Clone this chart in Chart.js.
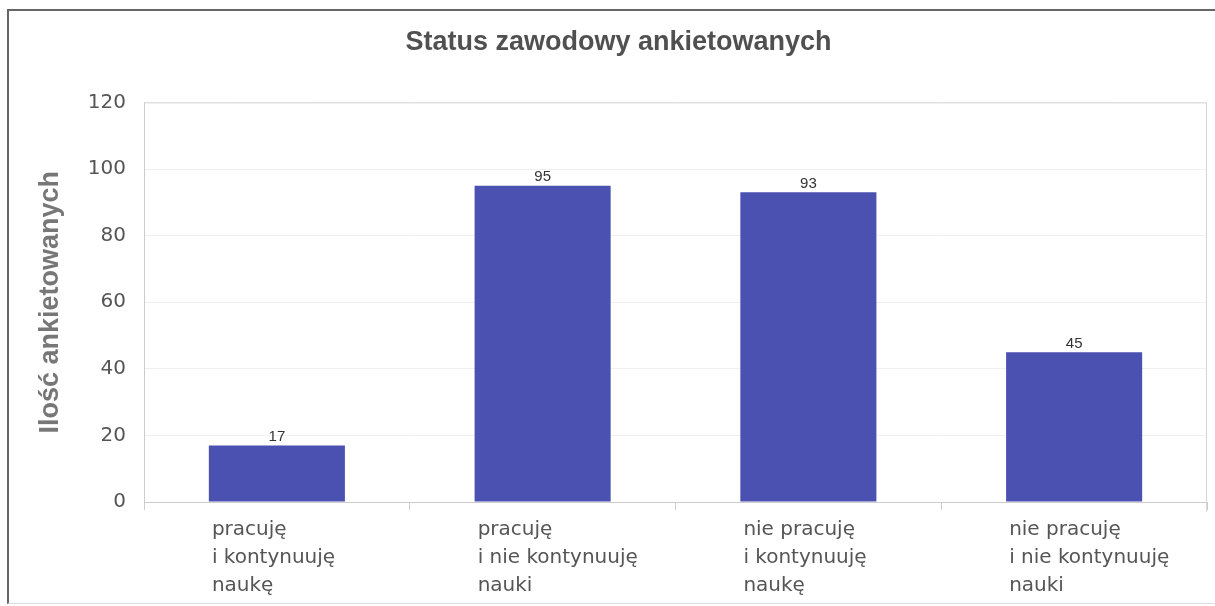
<!DOCTYPE html>
<html>
<head>
<meta charset="utf-8">
<script src="https://cdn.jsdelivr.net/npm/chart.js@4/dist/chart.umd.min.js"></script>
<style>
    body { margin: 0; background: #ffffff; overflow: hidden; }
    #wrap { position: relative; width: 1215px; height: 606px; }
    #frame {
        position: absolute; left: 7px; top: 9px; width: 1220px; height: 592px;
        border: 2px solid #666666; border-right: none; border-bottom: 1px solid #dddddd;
    }
    canvas { position: absolute; left: 0; top: 0; }
</style>
</head>
<body>
<div id="wrap">
    <div id="frame"></div>
    <canvas id="chartStatus" width="1215" height="606"></canvas>
</div>
<script>
// Chart data
const categories = [
    ['pracuję', 'i kontynuuję', 'naukę'],
    ['pracuję', 'i nie kontynuuję', 'nauki'],
    ['nie pracuję', 'i kontynuuję', 'naukę'],
    ['nie pracuję', 'i nie kontynuuję', 'nauki']
];
const counts = [17, 95, 93, 45];
const yTicks = [0, 20, 40, 60, 80, 100, 120];

const chartTitle = 'Status zawodowy ankietowanych';
const yTitle = 'Ilość ankietowanych';

// Draws the value above each bar
const valueLabels = {
    id: 'valueLabels',
    afterDatasetsDraw(chart) {
        const ctx = chart.ctx;
        const meta = chart.getDatasetMeta(0);
        ctx.save();
        ctx.font = '15px "Liberation Sans", Arial, sans-serif';
        ctx.fillStyle = '#333333';
        ctx.textAlign = 'center';
        ctx.textBaseline = 'bottom';
        meta.data.forEach((bar, i) => {
            ctx.fillText(String(counts[i]), bar.x, bar.y - 1);
        });
        ctx.restore();
    }
};

// Light frame around the plot area (top and right edges)
const plotFrame = {
    id: 'plotFrame',
    beforeDatasetsDraw(chart) {
        const a = chart.chartArea;
        const ctx = chart.ctx;
        ctx.save();
        ctx.strokeStyle = '#d6d6d6';
        ctx.lineWidth = 1;
        ctx.beginPath();
        ctx.moveTo(a.left, a.top + 0.5);
        ctx.lineTo(a.right - 0.5, a.top + 0.5);
        ctx.lineTo(a.right - 0.5, a.bottom + 10);
        ctx.stroke();
        ctx.restore();
    }
};

new Chart(document.getElementById('chartStatus'), {
    type: 'bar',
    data: {
        labels: categories,
        datasets: [{
            data: counts,
            backgroundColor: '#4a51b0',
            borderWidth: 0,
            categoryPercentage: 1.0,
            barPercentage: 0.512
        }]
    },
    options: {
        responsive: false,
        animation: false,
        layout: { padding: { left: 30, right: 8, top: 0, bottom: 0 } },
        plugins: {
            legend: { display: false },
            tooltip: { enabled: false },
            title: {
                display: true,
                text: chartTitle,
                color: '#505050',
                font: { family: '"Liberation Sans", Arial, sans-serif', size: 27, weight: 'bold' },
                padding: { top: 26, bottom: 44 }
            }
        },
        scales: {
            x: {
                afterFit: (scale) => {
                    scale.height = 104;
                    scale.paddingLeft = 0;
                    scale.paddingRight = 0;
                },
                grid: {
                    offset: true,
                    drawOnChartArea: false,
                    color: '#cccccc',
                    tickLength: 8
                },
                border: { color: '#cccccc' },
                ticks: {
                    color: '#555555',
                    font: { family: '"DejaVu Sans", Verdana, sans-serif', size: 20, lineHeight: 1.4 },
                    align: 'start',
                    labelOffset: -65,
                    padding: 6,
                    maxRotation: 0,
                    autoSkip: false
                }
            },
            y: {
                min: 0,
                max: 120,
                afterFit: (scale) => { scale.width = 114; },
                afterBuildTicks: (scale) => { scale.ticks = yTicks.map(v => ({ value: v })); },
                grid: {
                    color: '#f0f0f0',
                    tickLength: 0
                },
                border: { color: '#cccccc' },
                ticks: {
                    color: '#555555',
                    font: { family: '"DejaVu Sans", Verdana, sans-serif', size: 20 },
                    padding: 18
                },
                title: {
                    display: true,
                    text: yTitle,
                    color: '#777777',
                    font: { family: '"Liberation Sans", Arial, sans-serif', size: 27, weight: 'bold' },
                    padding: { top: 4, bottom: 0 }
                }
            }
        }
    },
    plugins: [valueLabels, plotFrame]
});
</script>
</body>
</html>
